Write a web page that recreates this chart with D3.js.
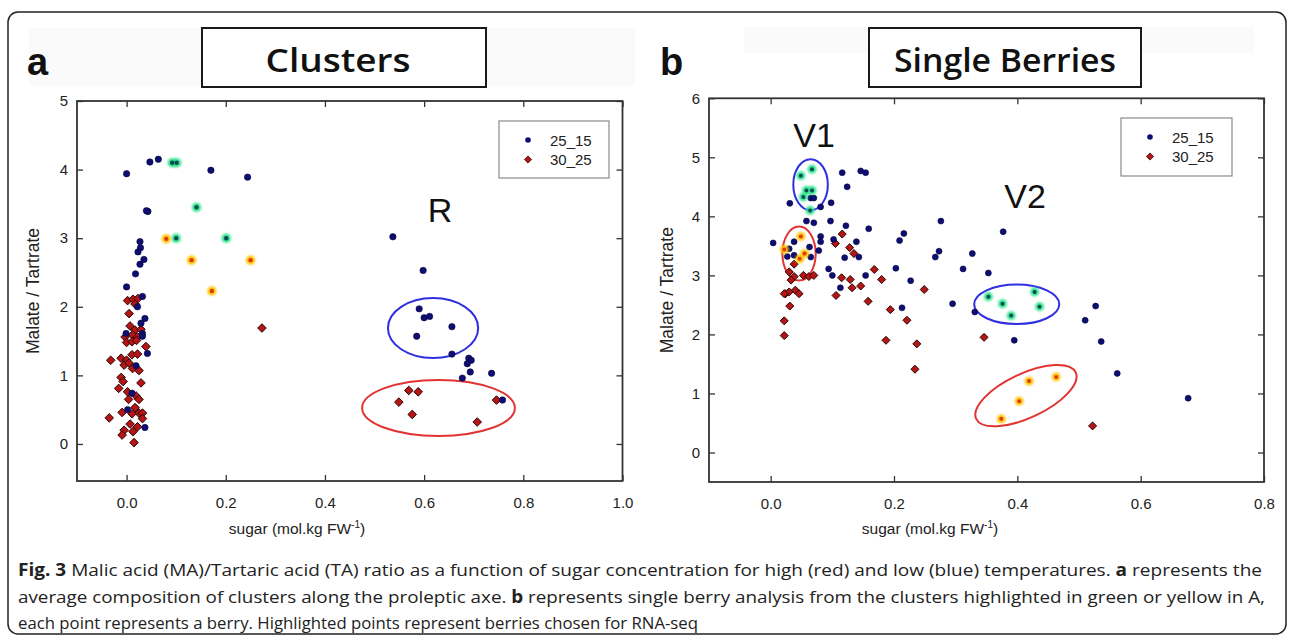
<!DOCTYPE html>
<html>
<head>
<meta charset="utf-8">
<script src="https://cdn.jsdelivr.net/npm/d3@7"></script>
<style>
  body { margin: 0; background: #fff; }
  svg { display: block; }
  .tick text { font-family: "Liberation Sans", Arial, sans-serif; font-size: 15px; fill: #222; }
  .tick line { stroke: #333; stroke-width: 1.3; }
</style>
</head>
<body>
<svg id="chart" width="1290" height="639"></svg>
<script>
// ---- panel a : clusters ----
const clustersBlue = [
  [0.000,3.94],[0.047,4.11],[0.064,4.15],[0.170,3.99],[0.244,3.89],[0.043,3.39],[0.040,3.40],
  [0.027,2.95],[0.028,2.86],[0.023,2.80],[0.035,2.69],[0.027,2.62],[0.018,2.48],[0.000,2.29],
  [0.032,2.15],[0.022,2.00],[0.037,1.83],[0.029,1.76],[-0.001,1.61],[0.032,1.61],[0.032,1.57],
  [0.042,1.32],[0.019,1.14],[0.011,0.74],[0.002,0.50],[0.037,0.24],
  [0.537,3.02],[0.598,2.53],[0.590,1.97],[0.600,1.84],[0.611,1.86],[0.656,1.71],[0.585,1.57],
  [0.656,1.31],[0.690,1.25],[0.695,1.22],[0.687,1.17],[0.693,1.05],[0.736,1.03],[0.677,0.96],[0.758,0.64]
];
const clustersRed = [
  [0.002,2.09],[0.013,2.11],[0.023,2.12],[0.017,2.04],[0.005,1.90],[0.007,1.72],[0.017,1.66],
  [0.029,1.67],[-0.003,1.56],[0.012,1.59],[0.022,1.56],[0.000,1.48],[0.011,1.49],[0.020,1.51],
  [0.039,1.42],[-0.032,1.22],[-0.011,1.25],[0.000,1.22],[0.011,1.30],[0.022,1.31],[-0.005,1.15],
  [0.005,1.18],[0.012,1.10],[0.025,1.07],[-0.011,0.97],[-0.007,0.91],[0.029,0.89],[-0.016,0.81],
  [0.002,0.76],[0.019,0.70],[0.025,0.65],[0.004,0.65],[0.017,0.53],[0.025,0.45],[0.032,0.45],
  [-0.009,0.46],[0.011,0.44],[-0.035,0.38],[0.032,0.37],[0.007,0.29],[0.022,0.25],[-0.005,0.20],
  [0.013,0.18],[-0.009,0.13],[0.015,0.02],
  [0.273,1.69],
  [0.569,0.78],[0.588,0.76],[0.549,0.61],[0.576,0.43],[0.746,0.64],[0.707,0.32]
];
const clustersGreen = [[0.092,4.10],[0.101,4.10],[0.141,3.45],[0.100,3.00],[0.201,3.00]];
const clustersYellow = [[0.080,2.99],[0.131,2.68],[0.250,2.68],[0.172,2.23]];

// ---- panel b : single berries ----
const berriesBlue = [
  [0.031,4.22],[0.081,4.16],[0.098,4.23],[0.058,3.92],[0.070,3.89],[0.097,3.92],[0.081,3.66],
  [0.081,3.57],[0.004,3.55],[0.063,3.48],[0.078,3.42],[0.102,3.61],[0.030,3.45],[0.027,3.32],
  [0.038,3.34],[0.065,3.31],[0.094,3.11],[0.100,3.00],[0.038,3.57],[0.065,4.31],[0.070,4.31],
  [0.116,4.74],[0.124,4.50],[0.146,4.77],[0.154,4.74],[0.122,3.84],[0.159,3.79],[0.139,3.57],
  [0.120,3.30],[0.143,3.31],[0.154,3.00],[0.113,2.79],[0.203,3.12],[0.209,3.59],[0.216,3.71],
  [0.227,2.91],[0.213,2.45],[0.276,3.92],[0.273,3.41],[0.267,3.31],
  [0.377,3.74],[0.327,3.37],[0.312,3.11],[0.353,3.04],[0.295,2.52],[0.331,2.38],[0.395,1.90],
  [0.527,2.48],[0.510,2.24],[0.536,1.88],[0.562,1.34],[0.677,0.92]
];
const berriesRed = [
  [0.038,3.19],[0.030,3.06],[0.038,2.98],[0.053,3.00],[0.062,2.98],[0.070,3.00],[0.033,2.92],
  [0.024,2.69],[0.030,2.72],[0.040,2.75],[0.046,2.69],[0.022,2.69],[0.031,2.48],[0.022,2.23],
  [0.022,1.98],[0.105,3.54],[0.116,3.70],[0.128,3.47],[0.135,3.37],[0.106,2.66],[0.115,2.96],
  [0.129,2.93],[0.132,2.79],[0.146,2.82],[0.168,3.10],[0.180,2.93],[0.158,2.56],[0.194,2.42],
  [0.187,1.90],[0.221,2.24],[0.237,1.84],[0.234,1.41],[0.249,2.76],[0.346,1.95],[0.522,0.45]
];
const berriesGreen = [
  [0.067,4.80],[0.049,4.69],[0.058,4.44],[0.067,4.44],[0.053,4.33],[0.064,4.10],
  [0.353,2.64],[0.376,2.52],[0.390,2.32],[0.428,2.72],[0.436,2.47]
];
const berriesYellow = [
  [0.049,3.66],[0.022,3.44],[0.055,3.37],[0.047,3.28],
  [0.374,0.57],[0.403,0.87],[0.419,1.21],[0.463,1.28]
];

// ellipses drawn round the chosen groups: [cx, cy, rx, ry] in data units
const clustersRings = [
  { c: [0.618, 1.69, 0.091, 0.437], color: "#2f2fe0", angle: 0 },
  { c: [0.629, 0.525, 0.154, 0.408], color: "#e23333", angle: 0 }
];
const berriesRings = [
  { c: [0.0647, 4.536, 0.028, 0.433], color: "#2f2fe0", angle: 0 },
  { c: [0.046, 3.37, 0.027, 0.458], color: "#e23333", angle: 0 },
  { c: [0.399, 2.51, 0.069, 0.334], color: "#2f2fe0", angle: 0 },
  { c: [0.414, 0.963, 0.089, 0.374], color: "#e23333", angle: -25 }
];

const legendNames = ["25_15", "30_25"];
const xTicksA = [0, 0.2, 0.4, 0.6, 0.8, 1.0];
const yTicksA = [0, 1, 2, 3, 4, 5];
const xTicksB = [0, 0.2, 0.4, 0.6, 0.8];
const yTicksB = [0, 1, 2, 3, 4, 5, 6];

const svg = d3.select("#chart");
const FONT = '"Liberation Sans", Arial, sans-serif';

const defs = svg.append("defs");
defs.append("filter").attr("id", "glow")
  .attr("x", "-100%").attr("y", "-100%").attr("width", "300%").attr("height", "300%")
  .append("feGaussianBlur").attr("stdDeviation", 1.1);

// outer figure frame
svg.append("rect")
  .attr("x", 8).attr("y", 12).attr("width", 1278).attr("height", 622)
  .attr("rx", 10).attr("fill", "none").attr("stroke", "#222").attr("stroke-width", 1.5);

function diamond(s) {
  return `M0,${-s}L${s},0L0,${s}L${-s},0Z`;
}

function drawPanel(p) {
  const x = d3.scaleLinear().domain(p.xDomain).range(p.xRange);
  const y = d3.scaleLinear().domain(p.yDomain).range(p.yRange);
  const g = svg.append("g");

  // faint band behind the title and the title box
  g.append("rect").attr("x", p.band[0]).attr("y", p.band[1])
    .attr("width", p.band[2]).attr("height", p.band[3]).attr("fill", "#fafafa");
  g.append("rect").attr("x", p.box[0]).attr("y", p.box[1])
    .attr("width", p.box[2]).attr("height", p.box[3])
    .attr("fill", "#fff").attr("stroke", "#1a1a1a").attr("stroke-width", 2);
  g.append("text")
    .attr("x", p.box[0] + p.box[2] / 2 + p.titleShift).attr("y", 72)
    .attr("text-anchor", "middle")
    .attr("font-family", '"Open Sans", sans-serif').attr("font-weight", 600)
    .attr("font-size", 33).attr("fill", "#111")
    .attr("textLength", p.titleWidth).attr("lengthAdjust", "spacingAndGlyphs")
    .text(p.title);
  g.append("text")
    .attr("x", p.letterX).attr("y", 75)
    .attr("font-family", FONT).attr("font-weight", 700).attr("font-size", 38)
    .attr("fill", "#111").text(p.letter);

  const x0 = p.xRange[0], x1 = p.xRange[1], y0 = p.yRange[0], y1 = p.yRange[1];

  // axes with inward ticks, mirrored on top and right
  g.append("g").attr("transform", `translate(0,${y0})`)
    .call(d3.axisBottom(x).tickValues(p.xTicks).tickSize(-6).tickPadding(16).tickFormat(d3.format(".1f")))
    .call(a => a.select(".domain").remove());
  g.append("g").attr("transform", `translate(0,${y1})`)
    .call(d3.axisTop(x).tickValues(p.xTicks).tickSize(-6).tickFormat(""))
    .call(a => a.select(".domain").remove());
  g.append("g").attr("transform", `translate(${x0},0)`)
    .call(d3.axisLeft(y).tickValues(p.yTicks).tickSize(-6).tickPadding(9).tickFormat(d3.format("d")))
    .call(a => a.select(".domain").remove());
  g.append("g").attr("transform", `translate(${x1},0)`)
    .call(d3.axisRight(y).tickValues(p.yTicks).tickSize(-6).tickFormat(""))
    .call(a => a.select(".domain").remove());

  g.append("rect").attr("x", x0).attr("y", y1)
    .attr("width", x1 - x0).attr("height", y0 - y1)
    .attr("fill", "none").attr("stroke", "#333").attr("stroke-width", 1.8);

  // axis titles
  g.append("text")
    .attr("transform", `translate(${p.yLabelX},${(y0 + y1) / 2}) rotate(-90)`)
    .attr("text-anchor", "middle").attr("font-family", FONT).attr("font-size", 17.5)
    .attr("fill", "#222").text("Malate / Tartrate");
  const xl = g.append("text")
    .attr("x", p.xLabelX).attr("y", 534).attr("text-anchor", "middle")
    .attr("font-family", FONT).attr("font-size", 15.5).attr("fill", "#222");
  xl.append("tspan").text("sugar (mol.kg FW");
  xl.append("tspan").attr("font-size", 10).attr("dy", -6).text("-1");
  xl.append("tspan").attr("dy", 6).text(")");

  // rings
  g.selectAll(".ring").data(p.rings).join("ellipse")
    .attr("class", "ring")
    .attr("cx", 0).attr("cy", 0)
    .attr("rx", d => x(d.c[0] + d.c[2]) - x(d.c[0]))
    .attr("ry", d => y(d.c[1] - d.c[3]) - y(d.c[1]))
    .attr("transform", d => `translate(${x(d.c[0])},${y(d.c[1])}) rotate(${d.angle})`)
    .attr("fill", "none").attr("stroke", d => d.color).attr("stroke-width", 2);

  // red diamonds (30_25)
  g.selectAll(".red").data(p.red).join("path")
    .attr("class", "red")
    .attr("d", diamond(p.dSize))
    .attr("transform", d => `translate(${x(d[0])},${y(d[1])})`)
    .attr("fill", "#b51515").attr("stroke", "#2a0505").attr("stroke-width", 1);

  // blue circles (25_15)
  g.selectAll(".blue").data(p.blue).join("circle")
    .attr("class", "blue")
    .attr("cx", d => x(d[0])).attr("cy", d => y(d[1])).attr("r", p.r)
    .attr("fill", "#0d0d73").attr("stroke", "#05053a").attr("stroke-width", 0.6);

  // highlighted points: bright halo with a dark centre
  function highlight(data, halo, core) {
    const h = g.append("g");
    h.selectAll("circle.halo").data(data).join("circle").attr("class", "halo")
      .attr("cx", d => x(d[0])).attr("cy", d => y(d[1])).attr("r", p.r + 1.4)
      .attr("fill", halo).attr("filter", "url(#glow)");
    h.selectAll("circle.core").data(data).join("circle").attr("class", "core")
      .attr("cx", d => x(d[0])).attr("cy", d => y(d[1])).attr("r", p.r - 1)
      .attr("fill", core);
  }
  highlight(p.green, "#2ee38a", "#0b4a5a");
  highlight(p.yellow, "#ffc400", "#e2380f");

  // annotations
  p.notes.forEach(n => {
    g.append("text").attr("x", n[1]).attr("y", n[2]).attr("text-anchor", "middle")
      .attr("font-family", FONT).attr("font-size", 34).attr("fill", "#111").text(n[0]);
  });

  // legend
  const L = p.legend;
  g.append("rect").attr("x", L[0]).attr("y", L[1]).attr("width", L[2]).attr("height", L[3])
    .attr("fill", "#fff").attr("stroke", "#8a8a8a").attr("stroke-width", 1.2);
  const items = g.selectAll(".leg").data(legendNames).join("g").attr("class", "leg")
    .attr("transform", (d, i) => `translate(${L[0] + 29},${L[1] + 19 + i * 19.5})`);
  items.filter((d, i) => i === 0).append("circle").attr("r", 2.8).attr("fill", "#0d0d73");
  items.filter((d, i) => i === 1).append("path").attr("d", diamond(3.6))
    .attr("fill", "#b51515").attr("stroke", "#2a0505").attr("stroke-width", 0.8);
  items.append("text").attr("x", 22).attr("y", 5.5)
    .attr("font-family", FONT).attr("font-size", 15).attr("fill", "#222").text(d => d);
}

drawPanel({
  xDomain: [-0.1, 1.0], xRange: [77, 622.5],
  yDomain: [-0.54, 5], yRange: [481, 101],
  xTicks: xTicksA, yTicks: yTicksA,
  blue: clustersBlue, red: clustersRed, green: clustersGreen, yellow: clustersYellow,
  rings: clustersRings, r: 3.2, dSize: 4.3,
  band: [29, 28, 606, 58], box: [202, 28, 284, 59], title: "Clusters", titleWidth: 145, titleShift: -6,
  letter: "a", letterX: 27,
  yLabelX: 39, xLabelX: 297,
  notes: [["R", 440, 222]],
  legend: [499, 121, 110, 57]
});

drawPanel({
  xDomain: [-0.1, 0.8], xRange: [709, 1264],
  yDomain: [-0.5, 6], yRange: [482, 98.3],
  xTicks: xTicksB, yTicks: yTicksB,
  blue: berriesBlue, red: berriesRed, green: berriesGreen, yellow: berriesYellow,
  rings: berriesRings, r: 3.0, dSize: 4.0,
  band: [744, 27, 510, 26], box: [869, 28, 272, 59], title: "Single Berries", titleWidth: 222, titleShift: 0,
  letter: "b", letterX: 660,
  yLabelX: 673, xLabelX: 930,
  notes: [["V1", 814, 147], ["V2", 1025, 208]],
  legend: [1121, 118, 111, 58]
});

// caption
const caption = [
  { w: 1244, parts: [["Fig. 3", 700], [" Malic acid (MA)/Tartaric acid (TA) ratio as a function of sugar concentration for high (red) and low (blue) temperatures. ", 400], ["a", 700], [" represents the", 400]] },
  { w: 1247, parts: [["average composition of clusters along the proleptic axe. ", 400], ["b", 700], [" represents single berry analysis from the clusters highlighted in green or yellow in A,", 400]] },
  { w: 680, parts: [["each point represents a berry. Highlighted points represent berries chosen for RNA-seq", 400]] }
];
const cap = svg.append("g");
caption.forEach((line, i) => {
  const t = cap.append("text").attr("x", 18).attr("y", 576 + i * 26.5)
    .attr("font-family", '"Open Sans", sans-serif').attr("font-size", 17).attr("fill", "#222")
    .attr("textLength", line.w).attr("lengthAdjust", "spacingAndGlyphs");
  line.parts.forEach(pt => t.append("tspan").attr("font-weight", pt[1]).text(pt[0]));
});
</script>
</body>
</html>
